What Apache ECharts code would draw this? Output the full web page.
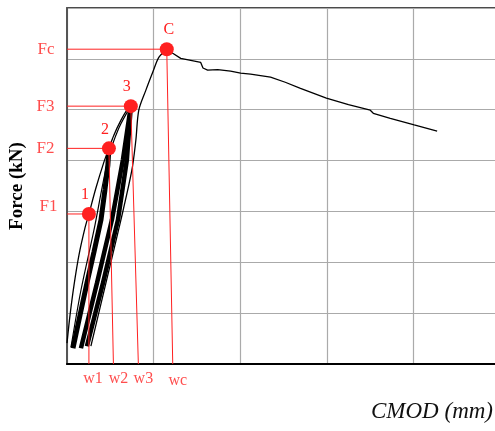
<!DOCTYPE html>
<html>
<head>
<meta charset="utf-8">
<script src="https://cdn.jsdelivr.net/npm/echarts@6/dist/echarts.min.js"></script>
<style>
  html, body { margin: 0; padding: 0; background: #fff; overflow: hidden; }
  /* the original figure is cropped on the right, so the chart is a bit wider than the window */
  #chart { width: 500px; height: 431px; }
</style>
</head>
<body>
<div id="chart"></div>
<script>
// curve data (x: CMOD, y: force)
const envelope = [
  [0, 0.41], [0.035, 0.96], [0.081, 1.55], [0.138, 2.14], [0.207, 2.67],
  [0.253, 2.95], [0.334, 3.46], [0.426, 3.97], [0.484, 4.24],
  [0.541, 4.5], [0.622, 4.79], [0.691, 4.99], [0.737, 5.07]
];
const reloadA = [
  [0.046, 0.33], [0.161, 1.45], [0.311, 2.63], [0.472, 4.01], [0.599, 4.64], [0.737, 5.07]
];
const band1 = [
  [0.069, 0.31], [0.150, 0.96], [0.230, 1.59], [0.311, 2.2], [0.392, 2.83],
  [0.438, 3.42], [0.472, 3.91], [0.484, 4.24]
];
const band2Left = [
  [0.161, 0.31], [0.346, 1.59], [0.518, 2.83], [0.645, 4.01], [0.737, 5.07]
];
const band2Right = [
  [0.230, 0.35], [0.415, 1.59], [0.588, 2.83], [0.691, 4.01], [0.737, 5.07]
];
const reloadB = [
  [0.276, 0.35], [0.449, 1.59], [0.622, 2.83], [0.749, 3.81], [0.795, 4.4],
  [0.829, 4.99], [0.910, 5.38], [0.991, 5.74], [1.060, 6.03], [1.152, 6.19]
];
const softening = [
  [1.152, 6.19], [1.221, 6.11], [1.313, 6.01], [1.429, 5.97], [1.544, 5.93],
  [1.570, 5.82], [1.624, 5.78], [1.740, 5.79], [1.889, 5.76], [2.005, 5.72],
  [2.120, 5.70], [2.350, 5.64], [2.520, 5.54], [2.696, 5.42], [2.995, 5.23],
  [3.250, 5.10], [3.502, 4.99], [3.537, 4.93], [3.733, 4.83], [4.009, 4.70],
  [4.274, 4.58]
];

const peakNames = ['1', '2', '3', 'C'];
const peakX = [0.253, 0.484, 0.737, 1.152];
const peakY = [2.95, 4.24, 5.07, 6.19];
const forceLabels = ['F1', 'F2', 'F3', 'Fc'];
const crackLabels = ['w1', 'w2', 'w3', 'wc'];
const crackX = [0.253, 0.536, 0.824, 1.221];

const RED = '#ff2020';
const SERIF = 'Liberation Serif';

const chart = echarts.init(document.getElementById('chart'));

const blackLine = (data, width, smooth) => ({
  type: 'line', data, symbol: 'none', smooth: smooth || false, z: 2,
  lineStyle: { color: '#000', width }
});

const redLines = [];
peakNames.forEach((n, i) => {
  redLines.push({
    type: 'line', symbol: 'none', z: 3,
    lineStyle: { color: RED, width: 1 },
    data: [[0, peakY[i]], [peakX[i], peakY[i]]]
  });
  redLines.push({
    type: 'line', symbol: 'none', z: 3,
    lineStyle: { color: RED, width: 1 },
    data: [[peakX[i], peakY[i]], [crackX[i], 0]]
  });
});

const option = {
  animation: false,
  grid: {
    left: 66, top: 8, right: 0, bottom: 67,
    show: true, borderColor: '#111', borderWidth: 1.5
  },
  xAxis: {
    type: 'value', min: 0, max: 5, interval: 1,
    axisLine: { show: true, lineStyle: { color: '#000', width: 2 } },
    axisTick: { show: false }, axisLabel: { show: false },
    splitLine: { lineStyle: { color: '#aaa', width: 1.2 } }
  },
  yAxis: {
    type: 'value', min: 0, max: 7, interval: 1,
    name: 'Force (kN)', nameLocation: 'middle', nameGap: 40,
    nameTextStyle: { fontFamily: SERIF, fontWeight: 'bold', fontSize: 19, color: '#000' },
    axisLine: { show: true, lineStyle: { color: '#555', width: 2 } },
    axisTick: { show: false }, axisLabel: { show: false },
    splitLine: { lineStyle: { color: '#aaa', width: 1.2 } }
  },
  graphic: [{
    type: 'text', left: 371, top: 400,
    style: { text: 'CMOD (mm)', font: 'italic 23px "Liberation Serif"', fill: '#111' }
  }],
  series: [
    blackLine(envelope, 1.3, 0.3),
    blackLine(reloadA, 1.2, 0.3),
    blackLine(band1, 5),
    blackLine(band2Left, 4.5),
    blackLine(band2Right, 4.5),
    blackLine(reloadB, 1.3, 0.3),
    blackLine(softening, 1.3),
    ...redLines,
    {
      type: 'scatter', z: 5, clip: false, symbolSize: 14,
      itemStyle: { color: RED, opacity: 1 },
      label: {
        show: true, position: 'top', distance: 4,
        formatter: (p) => p.name,
        fontFamily: SERIF, fontSize: 16, color: RED
      },
      data: peakNames.map((n, i) => ({
        name: n, value: [peakX[i], peakY[i]],
        label: { offset: n === 'C' ? [2, 0] : [-4, 0] }
      }))
    },
    {
      type: 'scatter', z: 5, clip: false, symbolSize: 1,
      itemStyle: { color: 'transparent' },
      label: {
        show: true, position: 'left', distance: 12,
        formatter: (p) => p.name,
        fontFamily: SERIF, fontSize: 17, color: RED
      },
      data: forceLabels.map((n, i) => ({
        name: n, value: [0, peakY[i]],
        label: { offset: i === 0 ? [3, -7] : [0, 0] }
      }))
    },
    {
      type: 'scatter', z: 5, clip: false, symbolSize: 1,
      itemStyle: { color: 'transparent' },
      label: {
        show: true, position: 'bottom', distance: 6,
        formatter: (p) => p.name,
        fontFamily: SERIF, fontSize: 16, color: RED
      },
      data: crackLabels.map((n, i) => ({
        name: n, value: [crackX[i], 0],
        label: { offset: i === 0 ? [4, 0] : [5, i === 3 ? 2 : 0] }
      }))
    }
  ]
};

chart.setOption(option);
</script>
</body>
</html>
